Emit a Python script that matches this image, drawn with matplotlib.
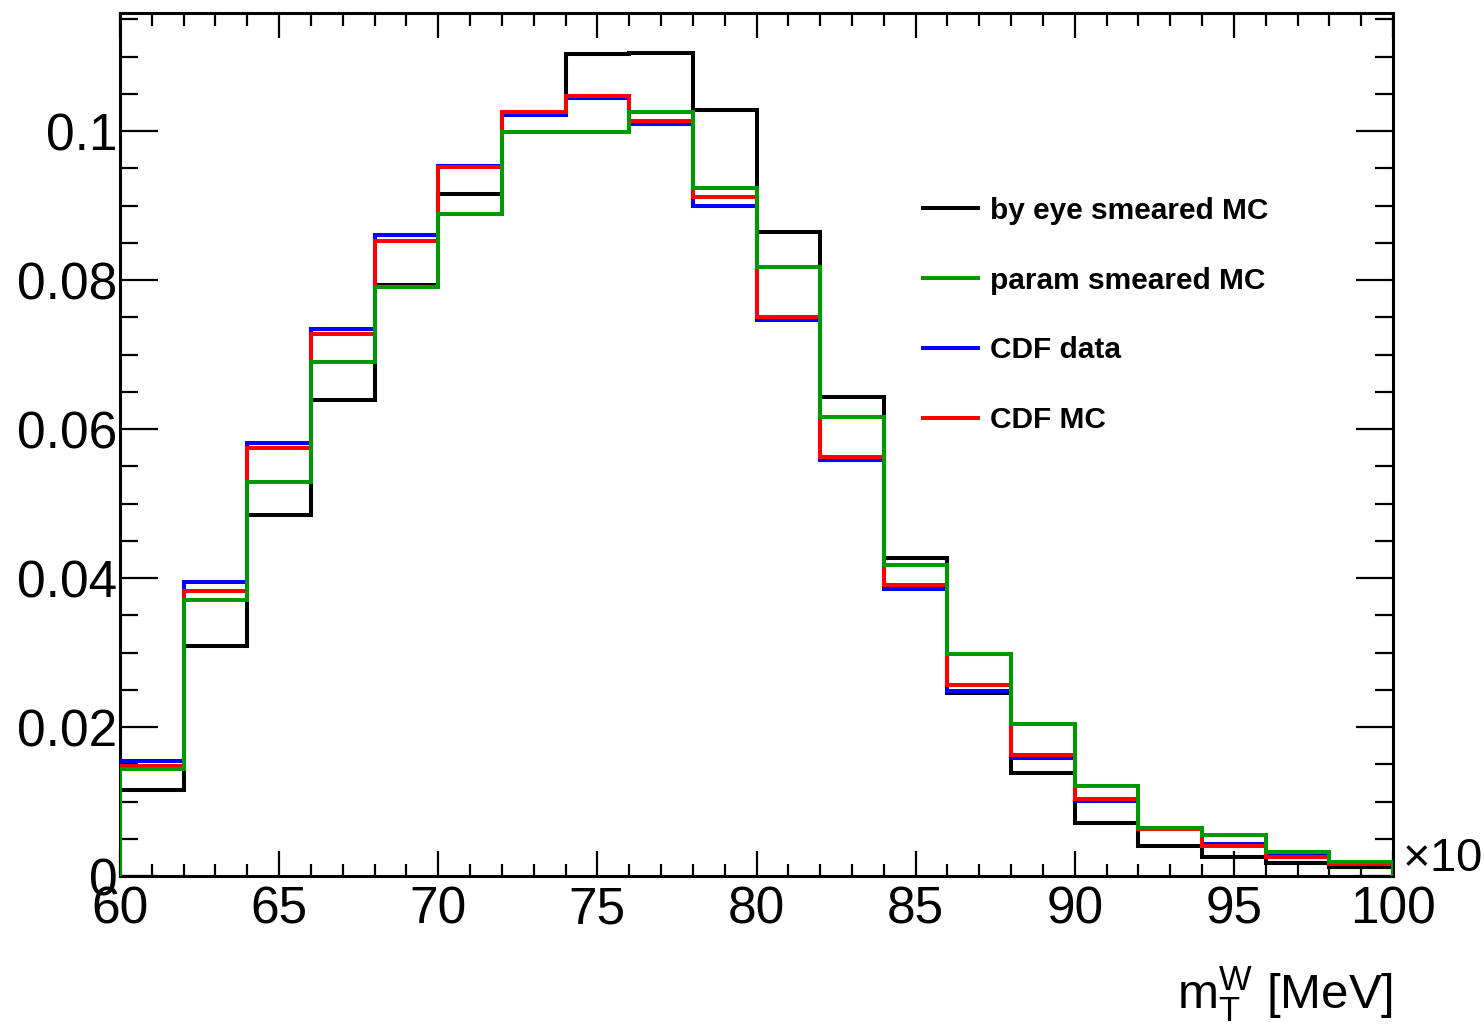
import numpy as np
import matplotlib
matplotlib.use("Agg")
import matplotlib.pyplot as plt
from matplotlib.ticker import MultipleLocator
from matplotlib.lines import Line2D

plt.rcParams['font.family'] = ['Liberation Sans', 'DejaVu Sans']
plt.rcParams['mathtext.fontset'] = 'custom'
plt.rcParams['mathtext.rm'] = 'Liberation Sans'
plt.rcParams['mathtext.it'] = 'Liberation Sans'

# bin edges (x10^3 MeV)
bin_edges = [60, 62, 64, 66, 68, 70, 72, 74, 76, 78, 80,
             82, 84, 86, 88, 90, 92, 94, 96, 98, 100]

by_eye_smeared_mc = [0.0115, 0.0309, 0.0485, 0.0639, 0.0793, 0.0915, 0.1025, 0.1103,
                     0.1105, 0.1028, 0.0864, 0.0643, 0.0427, 0.0246, 0.0138, 0.0071,
                     0.0040, 0.0026, 0.0018, 0.0012]
param_smeared_mc = [0.0144, 0.0370, 0.0529, 0.0690, 0.0790, 0.0888, 0.0998, 0.0998,
                    0.1026, 0.0923, 0.0817, 0.0616, 0.0418, 0.0298, 0.0204, 0.0121,
                    0.0065, 0.0055, 0.0032, 0.0019]
cdf_data = [0.0154, 0.0395, 0.0581, 0.0734, 0.0860, 0.0953, 0.1021, 0.1044,
            0.1009, 0.0899, 0.0746, 0.0559, 0.0385, 0.0248, 0.0159, 0.0101,
            0.0063, 0.0043, 0.0027, 0.0016]
cdf_mc = [0.0148, 0.0382, 0.0574, 0.0727, 0.0853, 0.0952, 0.1025, 0.1047,
          0.1014, 0.0911, 0.0750, 0.0563, 0.0391, 0.0256, 0.0163, 0.0104,
          0.0063, 0.0040, 0.0026, 0.0016]

labels = ["by eye smeared MC", "param smeared MC", "CDF data", "CDF MC"]
colors = ["#000000", "#009900", "#0000ff", "#ff0000"]

W, H = 1484, 1027
fig = plt.figure(figsize=(W / 100, H / 100), dpi=100)
ax = fig.add_axes([120 / W, 1 - 876 / H, (1393 - 120) / W, (876 - 13) / H])

lw = 2.9
ax.stairs(by_eye_smeared_mc, bin_edges, color=colors[0], lw=lw, zorder=2)
ax.stairs(cdf_data, bin_edges, color=colors[2], lw=lw, zorder=3)
ax.stairs(cdf_mc, bin_edges, color=colors[3], lw=lw, zorder=4)
ax.stairs(param_smeared_mc, bin_edges, color=colors[1], lw=lw, zorder=5)

handles = [Line2D([], [], color=c, lw=lw) for c in colors]
ax.legend(handles, labels, loc='upper left', bbox_to_anchor=(0.631, 0.787),
          frameon=False, prop={'weight': 'bold', 'size': 21.5},
          handlelength=1.84, handletextpad=0.4, labelspacing=1.40,
          borderaxespad=0, borderpad=0)

ax.set_xlim(60, 100)
ax.set_ylim(0, 0.11584)
ax.xaxis.set_minor_locator(MultipleLocator(1))
ax.yaxis.set_minor_locator(MultipleLocator(0.005))
ax.set_yticks([0, 0.02, 0.04, 0.06, 0.08, 0.1])
ax.set_yticklabels(["0", "0.02", "0.04", "0.06", "0.08", "0.1"])
ax.set_xticks([60, 65, 70, 75, 80, 85, 90, 95, 100])
ax.set_xticklabels(["60", "65", "70", "75", "80", "85", "90", "95", "100"])

ax.tick_params(axis='both', which='both', direction='in', top=True, right=True,
               width=1.6, labelsize=37, colors='black')
ax.tick_params(axis='x', which='major', length=18, pad=7)
ax.tick_params(axis='x', which='minor', length=9)
ax.tick_params(axis='y', which='major', length=27, pad=2)
ax.tick_params(axis='y', which='minor', length=13)
for s in ax.spines.values():
    s.set_linewidth(2.2)

ax.set_xlabel(r"m$_{\mathrm{T}}^{\mathrm{W}}$ [MeV]", fontsize=35.5, loc='right', labelpad=22)

fig.text(1402 / W, 1 - 860 / H, "×10$^{3}$", fontsize=34, ha='left', va='center')

fig.savefig("out.png", dpi=100)
